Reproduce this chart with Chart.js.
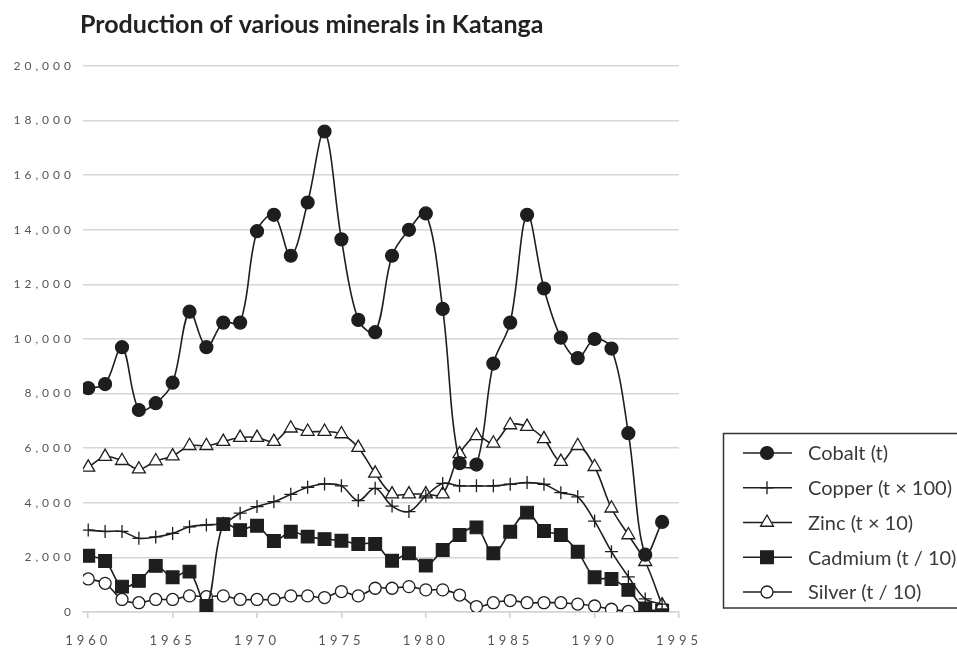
<!DOCTYPE html>
<html>
<head>
<meta charset="utf-8">
<script src="https://cdn.jsdelivr.net/npm/chart.js@4/dist/chart.umd.min.js"></script>
<style>
  html, body { margin: 0; padding: 0; background: #fff; }
  #wrap { width: 957px; height: 649px; position: relative; }
</style>
</head>
<body>
<div id="wrap"><canvas id="grafico"></canvas></div>
<script>
// dados
const anos = [1960, 1961, 1962, 1963, 1964, 1965, 1966, 1967, 1968, 1969,
              1970, 1971, 1972, 1973, 1974, 1975, 1976, 1977, 1978, 1979,
              1980, 1981, 1982, 1983, 1984, 1985, 1986, 1987, 1988, 1989,
              1990, 1991, 1992, 1993, 1994];

const cobalto = [8200, 8350, 9700, 7400, 7650, 8400, 11000, 9700, 10600, 10600,
                 13950, 14550, 13050, 15000, 17600, 13650, 10700, 10250, 13050, 14000,
                 14600, 11100, 5450, 5400, 9100, 10600, 14550, 11850, 10050, 9300,
                 10000, 9650, 6550, 2100, 3300];

const cobre = [3000, 2950, 2950, 2700, 2750, 2880, 3120, 3190, 3250, 3620,
               3860, 4040, 4310, 4570, 4690, 4620, 4080, 4530, 3880, 3680,
               4250, 4710, 4620, 4620, 4620, 4680, 4740, 4680, 4370, 4220,
               3330, 2210, 1290, 480, 290];

const zinco = [5300, 5690, 5540, 5230, 5530, 5710, 6090, 6090, 6240, 6390,
               6390, 6240, 6730, 6610, 6610, 6520, 6020, 5080, 4320, 4320,
               4320, 4320, 5790, 6450, 6180, 6850, 6790, 6340, 5510, 6090,
               5320, 3800, 2820, 1840, 250];

const cadmio = [2060, 1870, 930, 1140, 1690, 1270, 1480, 220, 3220, 3000,
                3160, 2600, 2940, 2760, 2670, 2610, 2490, 2490, 1880, 2150,
                1700, 2270, 2820, 3100, 2150, 2940, 3640, 2970, 2820, 2210,
                1270, 1210, 810, 130, 40];

const prata = [1210, 1050, 460, 340, 460, 460, 590, 560, 590, 460,
               460, 460, 590, 590, 530, 750, 590, 870, 870, 930,
               810, 810, 620, 200, 340, 420, 340, 340, 340, 290,
               220, 100, 20, 20, 20];

const ticksAnos = [1960, 1965, 1970, 1975, 1980, 1985, 1990, 1995];
const titulo = "Production of various minerals in Katanga";
const nomes = ["Cobalt (t)", "Copper (t \u00d7 100)", "Zinc (t \u00d7 10)", "Cadmium (t / 10)", "Silver (t / 10)"];

const PRETO = "#1e1e1e";
const FONTE = "Lato, 'Open Sans', sans-serif";

function pontos(serie) {
  return anos.map((a, i) => ({ x: a, y: serie[i] }));
}

function serie(nome, valores, estilo, raio, fundo, borda) {
  return {
    label: nome,
    data: pontos(valores),
    borderColor: PRETO,
    borderWidth: 1.6,
    tension: 0.35,
    pointStyle: estilo,
    pointRadius: raio,
    pointHoverRadius: raio,
    pointBackgroundColor: fundo,
    pointBorderColor: PRETO,
    pointBorderWidth: borda
  };
}

const datasets = [
  serie(nomes[0], cobalto, "circle", 6.5, PRETO, 1.2),
  serie(nomes[1], cobre, "cross", 6.5, PRETO, 1.3),
  serie(nomes[2], zinco, "triangle", 7.5, "#ffffff", 1.3),
  serie(nomes[3], cadmio, "rect", 9, PRETO, 1.2),
  serie(nomes[4], prata, "circle", 6, "#ffffff", 1.3)
];

// espaçamento das letras nos eixos (estilo do original)
const espacoEixos = {
  id: "espacoEixos",
  beforeDraw(chart) { chart.ctx.letterSpacing = "4px"; },
  beforeDatasetsDraw(chart) { chart.ctx.letterSpacing = "0px"; }
};

// título e legenda desenhados à mão
const tituloLegenda = {
  id: "tituloLegenda",
  afterDraw(chart) {
    const ctx = chart.ctx;
    ctx.save();
    ctx.letterSpacing = "0px";
    ctx.fillStyle = "#222";
    ctx.font = "bold 25px " + FONTE;
    ctx.textAlign = "left";
    ctx.textBaseline = "alphabetic";
    ctx.fillText(titulo, 80, 33);

    // caixa da legenda
    ctx.strokeStyle = "#333";
    ctx.lineWidth = 1.5;
    ctx.strokeRect(723.5, 433.5, 260, 174.5);

    const y0 = 453, passo = 34.75;
    chart.data.datasets.forEach((ds, i) => {
      const y = y0 + i * passo;
      ctx.strokeStyle = PRETO;
      ctx.lineWidth = 1.5;
      ctx.beginPath();
      ctx.moveTo(743, y);
      ctx.lineTo(792, y);
      ctx.stroke();
      ctx.fillStyle = ds.pointBackgroundColor;
      ctx.strokeStyle = PRETO;
      ctx.lineWidth = ds.pointBorderWidth;
      if (Chart.helpers && Chart.helpers.drawPoint) {
        Chart.helpers.drawPoint(ctx, {
          pointStyle: ds.pointStyle,
          radius: ds.pointRadius,
          rotation: 0,
          borderWidth: ds.pointBorderWidth
        }, 767, y);
      }
      ctx.fillStyle = "#3a3a3a";
      ctx.font = "20px " + FONTE;
      ctx.textBaseline = "middle";
      ctx.fillText(ds.label, 808, y + 1);
    });
    ctx.restore();
  }
};

const ctx = document.getElementById("grafico").getContext("2d");
new Chart(ctx, {
  type: "line",
  data: { datasets: datasets },
  options: {
    responsive: true,
    maintainAspectRatio: false,
    animation: false,
    events: [],
    layout: { padding: { top: 66, right: 278, bottom: 0, left: 0 } },
    plugins: {
      legend: { display: false },
      title: { display: false },
      tooltip: { enabled: false }
    },
    scales: {
      x: {
        type: "linear",
        min: 1959.69,
        max: 1995,
        afterBuildTicks: (scale) => { scale.ticks = ticksAnos.map(v => ({ value: v })); },
        afterFit: (scale) => { scale.height = 37; },
        grid: {
          drawOnChartArea: false,
          drawTicks: true,
          tickLength: 6,
          tickColor: "#cfcfcf",
          lineWidth: 1.5
        },
        border: { display: true, color: "#d4d4d4", width: 1.5 },
        ticks: {
          callback: (v) => String(v),
          color: "#555",
          padding: 15,
          maxRotation: 0,
          autoSkip: false,
          font: { family: FONTE, size: 13 }
        }
      },
      y: {
        min: 0,
        max: 20000,
        afterFit: (scale) => { scale.width = 83; },
        grid: {
          color: "#d6d6d6",
          lineWidth: 1.5,
          drawTicks: false
        },
        border: { display: false },
        ticks: {
          stepSize: 2000,
          color: "#555",
          padding: 8,
          callback: (v) => v.toLocaleString("en-US"),
          font: { family: FONTE, size: 12 }
        }
      }
    }
  },
  plugins: [espacoEixos, tituloLegenda]
});
</script>
</body>
</html>
